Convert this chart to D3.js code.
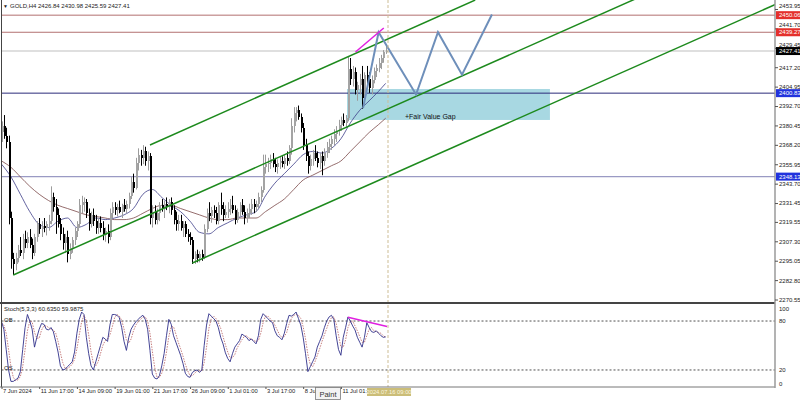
<!DOCTYPE html>
<html><head><meta charset="utf-8">
<script src="https://cdn.jsdelivr.net/npm/d3@7"></script>
<style>body{margin:0;background:#fff}svg{display:block}text{font-family:"Liberation Sans",Arial,sans-serif}</style>
</head><body><svg id="c" width="800" height="400"></svg>
<script>
// ---------- DATA ----------
const symbolTitle = "GOLD,H4";
const headerOHLC = [2426.84, 2430.98, 2425.59, 2427.41];
const stochTitle = "Stoch(5,3,3)";
const stochLast = [60.6350, 59.9875];

const opens = [
2376,2380,2374,2370,2322,2296,2293,2297,2302,2300,
2309,2306,2310,2305,2300,2310,2318,2315,2317,2316,
2318,2320,2335,2329,2324,2318,2312,2306,2310,2299,
2303,2308,2314,2318,2330,2332,2332,2325,2318,2324,
2320,2316,2319,2316,2311,2314,2310,2325,2329,2327,
2329,2326,2330,2328,2331,2336,2345,2341,2357,2362,
2360,2364,2358,2361,2322,2326,2321,2325,2330,2328,
2331,2329,2332,2327,2321,2318,2320,2316,2318,2312,
2310,2308,2296,2299,2297,2299,2297,2315,2325,2323,
2327,2325,2320,2330,2328,2324,2326,2328,2330,2327,
2321,2326,2330,2326,2322,2325,2328,2331,2329,2331,
2335,2340,2354,2356,2357,2359,2356,2354,2357,2358,
2356,2360,2358,2366,2380,2388,2390,2386,2379,2368,
2361,2355,2359,2363,2360,2357,2361,2358,2363,2367,
2369,2372,2375,2377,2381,2384,2382,2385,2416,2410,
2414,2403,2406,2410,2398,2412,2410,2404,2409,2415,
2417,2420,2423,2426.84];
const highs = [
2383,2387,2379,2374,2326,2300,2300,2305,2310,2312,
2314,2313,2315,2309,2312,2320,2322,2320,2322,2320,
2324,2342,2338,2334,2328,2322,2316,2312,2314,2306,
2310,2316,2320,2334,2336,2335,2334,2328,2326,2328,
2324,2322,2323,2320,2316,2318,2328,2332,2332,2331,
2333,2331,2334,2333,2338,2348,2350,2360,2366,2365,
2368,2367,2364,2363,2330,2330,2328,2332,2334,2333,
2335,2334,2335,2330,2326,2324,2324,2320,2320,2315,
2313,2310,2301,2302,2301,2302,2318,2328,2332,2329,
2330,2329,2332,2338,2332,2330,2332,2334,2336,2330,
2328,2332,2334,2330,2328,2331,2334,2334,2333,2338,
2342,2362,2362,2360,2362,2363,2360,2359,2361,2361,
2362,2364,2368,2385,2392,2392,2393,2388,2382,2372,
2364,2362,2365,2368,2364,2363,2364,2366,2370,2372,
2374,2378,2380,2384,2386,2388,2387,2424,2423,2418,
2417,2408,2413,2418,2414,2418,2414,2412,2417,2419,
2423,2425,2428,2430.98];
const lows = [
2370,2372,2366,2318,2290,2286,2289,2294,2298,2296,
2303,2303,2303,2296,2298,2307,2312,2310,2313,2311,
2314,2318,2326,2312,2316,2308,2302,2300,2294,2296,
2300,2305,2310,2316,2325,2326,2322,2314,2316,2317,
2312,2312,2313,2308,2307,2306,2308,2322,2324,2323,
2325,2322,2326,2325,2328,2334,2338,2340,2352,2355,
2356,2355,2352,2318,2316,2318,2318,2320,2326,2322,
2327,2325,2324,2318,2314,2314,2314,2310,2310,2307,
2305,2293,2293,2294,2294,2295,2296,2313,2320,2319,
2322,2318,2318,2324,2320,2322,2322,2324,2325,2318,
2319,2323,2324,2318,2319,2322,2324,2325,2326,2328,
2332,2338,2350,2351,2353,2354,2351,2350,2353,2354,
2353,2355,2356,2362,2376,2383,2384,2376,2365,2358,
2350,2352,2355,2358,2354,2353,2349,2355,2360,2363,
2365,2368,2370,2374,2377,2380,2379,2383,2406,2405,
2400,2396,2400,2391,2396,2406,2401,2400,2407,2411,
2414,2416,2420,2425.59];
const closes = [
2380,2374,2370,2322,2296,2293,2297,2302,2300,2309,
2306,2310,2305,2300,2310,2318,2315,2317,2316,2318,
2320,2335,2329,2324,2318,2312,2306,2310,2299,2303,
2308,2314,2318,2330,2332,2332,2325,2318,2324,2320,
2316,2319,2316,2311,2314,2310,2325,2329,2327,2329,
2326,2330,2328,2331,2336,2345,2341,2357,2362,2360,
2364,2358,2361,2322,2326,2321,2325,2330,2328,2331,
2329,2332,2327,2321,2318,2320,2316,2318,2312,2310,
2308,2296,2299,2297,2299,2297,2315,2325,2323,2327,
2325,2320,2330,2328,2324,2326,2328,2330,2327,2321,
2326,2330,2326,2322,2325,2328,2331,2329,2331,2335,
2340,2354,2356,2357,2359,2356,2354,2357,2358,2356,
2360,2358,2366,2380,2388,2390,2386,2379,2368,2361,
2355,2359,2363,2360,2357,2361,2358,2363,2367,2369,
2372,2375,2377,2381,2384,2382,2385,2416,2410,2414,
2403,2406,2410,2398,2412,2410,2404,2409,2415,2417,
2420,2423,2426.84,2427.41];

// moving averages, read every 4 bars
const maBars = [0,4,8,12,16,20,24,28,32,36,40,44,48,52,56,60,64,68,72,76,80,84,88,92,96,100,104,108,112,116,120,124,128,132,136,140,144,148,152,156,160,163];
const fastMA = [2356,2348,2337,2326,2318,2316,2320,2322,2316,2318,2322,2321,2322,2324,2328,2337,2340,2335,2330,2326,2320,2313,2312,2316,2319,2322,2324,2326,2336,2344,2350,2356,2362,2364,2363,2366,2372,2382,2390,2396,2402,2407];
const slowMA = [2358,2354,2348,2342,2337,2333,2330,2328,2326,2324,2323,2322,2321,2321,2322,2325,2328,2330,2330,2328,2326,2324,2322,2321,2321,2322,2322,2322,2326,2330,2334,2340,2346,2349,2352,2355,2358,2364,2370,2376,2381,2385];

const stochK = [
79,70,45,20,6,6,8,10,18,45,
72,88,80,70,48,60,70,77,76,70,
69,72,67,55,42,25,20,21,24,27,
30,42,65,82,91,88,60,40,25,20,
30,40,50,60,58,55,75,88,88,87,
84,72,55,44,60,70,75,79,82,85,
87,82,70,44,15,10,9,13,25,40,
62,82,76,62,54,46,38,28,16,12,
11,17,19,20,17,20,50,75,89,86,
83,80,72,60,52,41,34,30,40,48,
52,56,64,62,60,56,58,55,52,62,
82,89,86,83,80,78,68,62,60,57,
65,77,87,86,88,91,83,75,60,40,
18,24,30,36,48,55,62,72,80,85,
87,82,62,45,38,60,72,85,80,74,
69,60,54,48,60,78,72,67,66,68,
65,62,60,60.6];
const stochD = [
78,75,65,45,24,11,7,8,12,24,
45,68,80,79,66,59,59,69,74,74,
72,70,69,65,55,41,29,22,22,24,
27,33,46,63,79,87,80,63,42,28,
25,30,40,50,56,58,63,73,84,88,
86,81,70,57,53,58,68,75,79,82,
85,85,80,65,43,23,11,11,16,26,
42,61,73,73,64,54,46,37,27,19,
13,13,16,19,19,19,29,48,71,83,
86,83,78,71,61,51,42,35,35,39,
47,52,57,61,62,59,58,56,55,56,
65,78,86,86,83,80,75,69,63,60,
61,66,76,83,87,88,87,83,73,58,
39,27,24,30,38,46,55,63,71,79,
84,85,77,63,48,48,57,72,79,80,
74,68,61,54,54,62,70,72,68,67,
66,65,62,60];

const priceTicks = [2453.95,2441.70,2429.45,2417.20,2404.95,2392.70,2380.45,2368.20,2355.95,2343.70,2331.45,2319.55,2307.30,2295.05,2282.80,2270.55];
const stochTicks = [100,80,20,0];
const stochLevels = [80,20];
const timeTickBars = [0,16,32,48,64,80,96,112,128,144];
const timeLabels = ["7 Jun 2024","11 Jun 17:00","14 Jun 09:00","19 Jun 01:00","21 Jun 17:00","26 Jun 09:00","1 Jul 01:00","3 Jul 17:00","8 Jul","11 Jul 01:"];
const levelPrices = [2450.06,2439.27,2427.41,2400.83,2348.13];

// drawn objects: [bar, price]
const channelUpper = [[63,2368.1],[201,2459.6]];
const channelMiddle = [[5,2286.0],[270,2461.0]];
const channelLower = [[81,2293.6],[330,2457.9]];
const zigzag = [[153.4,2391.4],[160,2439.27],[175.9,2400],[185.2,2439.27],[195.4,2412.5],[208.1,2450.5]];
const divergencePrice = [[150.2,2426.8],[162.2,2441.95]];
const divergenceStoch = [[147,84.5],[163.6,73.4]];
const fvgBars = [146.6,232.7];
const fvgPrices = [2383.9,2403.45];
const fvgText = "+Fair Value Gap";
const cursorBar = 164;
const cursorLabel = "2024.07.16 09:00";
const tooltipText = "Paint";

// ---------- LAYOUT ----------
const svg = d3.select('#c');
const L = 1.5, R = 775, mainTop = 0, mainBot = 303, stTop = 304, stBot = 387;
const x = d3.scaleLinear().domain([0, 328.2]).range([L, R]);
const yP = d3.scaleLinear().domain([2268.35, 2459.63]).range([mainBot, mainTop]);
const yS = d3.scaleLinear().domain([0, 100]).range([386.3, 304.7]);
const FONT = '"Liberation Sans",Arial,sans-serif';

const defs = svg.append('defs');
defs.append('clipPath').attr('id','clipMain').append('rect').attr('x',L).attr('y',mainTop).attr('width',R-L).attr('height',mainBot-mainTop);
defs.append('clipPath').attr('id','clipSt').append('rect').attr('x',L).attr('y',stTop).attr('width',R-L).attr('height',stBot-stTop);

const gMain = svg.append('g').attr('clip-path','url(#clipMain)');
const gSt = svg.append('g').attr('clip-path','url(#clipSt)');

// FVG box (behind)
gMain.append('rect')
  .attr('x', x(fvgBars[0])).attr('width', x(fvgBars[1]) - x(fvgBars[0]))
  .attr('y', yP(fvgPrices[1])).attr('height', yP(fvgPrices[0]) - yP(fvgPrices[1]))
  .attr('fill', '#a8d8e2');

// horizontal levels
const levelColors = ['#b27070','#b27070','#d4d4d4','#2a2a7a','#9a9ac4'];
const levelWidths = [1,1,1.6,1,1.4];
gMain.selectAll('line.lvl').data(levelPrices).join('line')
  .attr('x1', L).attr('x2', R)
  .attr('y1', d => yP(d)).attr('y2', d => yP(d))
  .attr('stroke', (d,i) => levelColors[i]).attr('stroke-width', (d,i) => levelWidths[i]);

// moving averages
const maLine = vals => d3.line().x((d,i) => x(maBars[i])).y(d => yP(d)).curve(d3.curveMonotoneX)(vals);
gMain.append('path').attr('d', maLine(slowMA)).attr('fill','none').attr('stroke','#7a4848').attr('stroke-width',0.8);
gMain.append('path').attr('d', maLine(fastMA)).attr('fill','none').attr('stroke','#3c3c88').attr('stroke-width',0.8);

// candles
const idx = d3.range(closes.length);
const bull = i => closes[i] >= opens[i];
gMain.selectAll('line.wick').data(idx).join('line')
  .attr('x1', i => Math.round(x(i)) + 0.5).attr('x2', i => Math.round(x(i)) + 0.5)
  .attr('y1', i => yP(highs[i])).attr('y2', i => yP(lows[i]))
  .attr('stroke', i => bull(i) ? '#9c9c9c' : '#000').attr('stroke-width', 1);
gMain.selectAll('rect.body').data(idx).join('rect')
  .attr('x', i => Math.round(x(i)) - 0.5).attr('width', 2)
  .attr('y', i => yP(Math.max(opens[i], closes[i])))
  .attr('height', i => Math.max(1, Math.abs(yP(opens[i]) - yP(closes[i]))))
  .attr('fill', i => bull(i) ? '#a4a4a4' : '#000')
  .attr('shape-rendering','crispEdges');

// channel lines
const ptLine = d3.line().x(d => x(d[0])).y(d => yP(d[1]));
[channelUpper, channelMiddle, channelLower].forEach(c => {
  gMain.append('path').attr('d', ptLine(c)).attr('fill','none').attr('stroke','#1d8a1d').attr('stroke-width',1.5);
});

// zigzag projection
gMain.append('path').attr('d', ptLine(zigzag)).attr('fill','none').attr('stroke','#6e8fba').attr('stroke-width',2).attr('stroke-linejoin','miter');
// divergence line on price
gMain.append('path').attr('d', ptLine(divergencePrice)).attr('fill','none').attr('stroke','#e020e0').attr('stroke-width',1.5);

// FVG label
svg.append('text').attr('x', x(171.2)).attr('y', yP(2384.7)).attr('font-size', 7).attr('fill','#111').text(fvgText);

// ---------- STOCHASTIC ----------
gSt.selectAll('line.sl').data(stochLevels).join('line')
  .attr('x1', L).attr('x2', R).attr('y1', d => yS(d)).attr('y2', d => yS(d))
  .attr('stroke','#222').attr('stroke-width',0.8).attr('stroke-dasharray','2,2');
const stLine = d3.line().x((d,i) => x(i)).y(d => yS(d));
gSt.append('path').attr('d', stLine(stochD)).attr('fill','none').attr('stroke','#c07070').attr('stroke-width',0.9).attr('stroke-dasharray','1.5,1.2');
gSt.append('path').attr('d', stLine(stochK)).attr('fill','none').attr('stroke','#30308a').attr('stroke-width',0.9);
const stPt = d3.line().x(d => x(d[0])).y(d => yS(d[1]));
gSt.append('path').attr('d', stPt(divergenceStoch)).attr('fill','none').attr('stroke','#e020e0').attr('stroke-width',1.5);

svg.append('text').attr('x', 4).attr('y', 311).attr('font-size', 6).attr('fill','#222')
  .text(`${stochTitle} ${stochLast[0].toFixed(4)} ${stochLast[1].toFixed(4)}`);
svg.append('text').attr('x', 4).attr('y', yS(80) + 1).attr('font-size', 6).attr('fill','#222').text('OB');
svg.append('text').attr('x', 4).attr('y', yS(20) + 0).attr('font-size', 6).attr('fill','#222').text('OS');

// ---------- CURSOR LINE ----------
svg.append('line').attr('x1', x(cursorBar)).attr('x2', x(cursorBar)).attr('y1', 0).attr('y2', stBot)
  .attr('stroke','#cdbd95').attr('stroke-width',1).attr('stroke-dasharray','3,2');

// ---------- FRAMES ----------
svg.append('line').attr('x1', L).attr('x2', L).attr('y1', 0).attr('y2', stBot).attr('stroke','#444').attr('stroke-width',1);
svg.append('line').attr('x1', 0).attr('x2', R).attr('y1', mainBot).attr('y2', mainBot).attr('stroke','#444').attr('stroke-width',2);
svg.append('line').attr('x1', 0).attr('x2', R).attr('y1', stBot).attr('y2', stBot).attr('stroke','#777').attr('stroke-width',1);
svg.append('line').attr('x1', R).attr('x2', R).attr('y1', 0).attr('y2', stBot+1).attr('stroke','#9a9a9a').attr('stroke-width',1.5);

// ---------- AXES ----------
const styleAxis = g => { g.select('.domain').remove(); g.attr('font-size',6).attr('font-family',FONT); g.selectAll('line').attr('stroke','#555'); g.selectAll('text').attr('fill','#222'); };
const pAx = svg.append('g').attr('transform',`translate(${R},0)`)
  .call(d3.axisRight(yP).tickValues(priceTicks).tickSize(3).tickPadding(1).tickFormat(d3.format('.2f')))
  .call(styleAxis);
pAx.selectAll('.tick text').attr('dy', d => levelPrices.some(p => d - p > 0 && d - p < 4) ? '-0.3em' : '0.32em');

const stAx = svg.append('g').attr('transform',`translate(${R},0)`)
  .call(d3.axisRight(yS).tickValues(stochTicks).tickSize(0).tickPadding(4).tickFormat(d3.format('d')))
  .call(styleAxis);
stAx.selectAll('.tick text').attr('dy', d => d === 100 ? '0.9em' : (d === 0 ? '-0.1em' : '0.32em'));

const xAx = svg.append('g').attr('transform',`translate(0,${stBot})`)
  .call(d3.axisBottom(x).tickValues(timeTickBars).tickSize(2).tickPadding(0).tickFormat((d,i) => timeLabels[i]))
  .call(styleAxis);
xAx.selectAll('.tick text').attr('text-anchor','start').attr('dx', 1).attr('font-size', 5.8);

// price level labels on the axis
const boxColors = ['#e4302c','#e4302c','#000','#2233dd','#2233dd'];
const lvlG = svg.selectAll('g.lvlLab').data(levelPrices).join('g').attr('transform', d => `translate(${R+1},${yP(d)})`);
lvlG.append('rect').attr('x',0).attr('y',-4).attr('width',25).attr('height',8).attr('fill',(d,i) => boxColors[i]);
lvlG.append('text').attr('x',3).attr('y',2.2).attr('font-size',6).attr('fill','#fff').text(d => d.toFixed(2));

// header
svg.append('text').attr('x', 3).attr('y', 8).attr('font-size', 5).attr('fill','#222').text('▼');
svg.append('text').attr('x', 10).attr('y', 8).attr('font-size', 6).attr('fill','#222')
  .text(`${symbolTitle}  ${headerOHLC.map(v => v.toFixed(2)).join(' ')}`);

// cursor date label & tooltip
const cl = svg.append('g').attr('transform', `translate(${x(cursorBar) - 21},388)`);
cl.append('rect').attr('width', 44).attr('height', 8).attr('fill', '#cbbd78');
cl.append('text').attr('x', 22).attr('y', 6.2).attr('text-anchor','middle').attr('font-size', 5.8).attr('fill','#fbf6df').text(cursorLabel);
const tt = svg.append('g').attr('transform','translate(315.5,387.5)');
tt.append('rect').attr('width', 25).attr('height', 12).attr('fill','#f3f3f3').attr('stroke','#7a7a7a').attr('stroke-width',0.8);
tt.append('text').attr('x', 12.5).attr('y', 9).attr('text-anchor','middle').attr('font-size', 7.5).attr('fill','#333').text(tooltipText);
</script></body></html>
